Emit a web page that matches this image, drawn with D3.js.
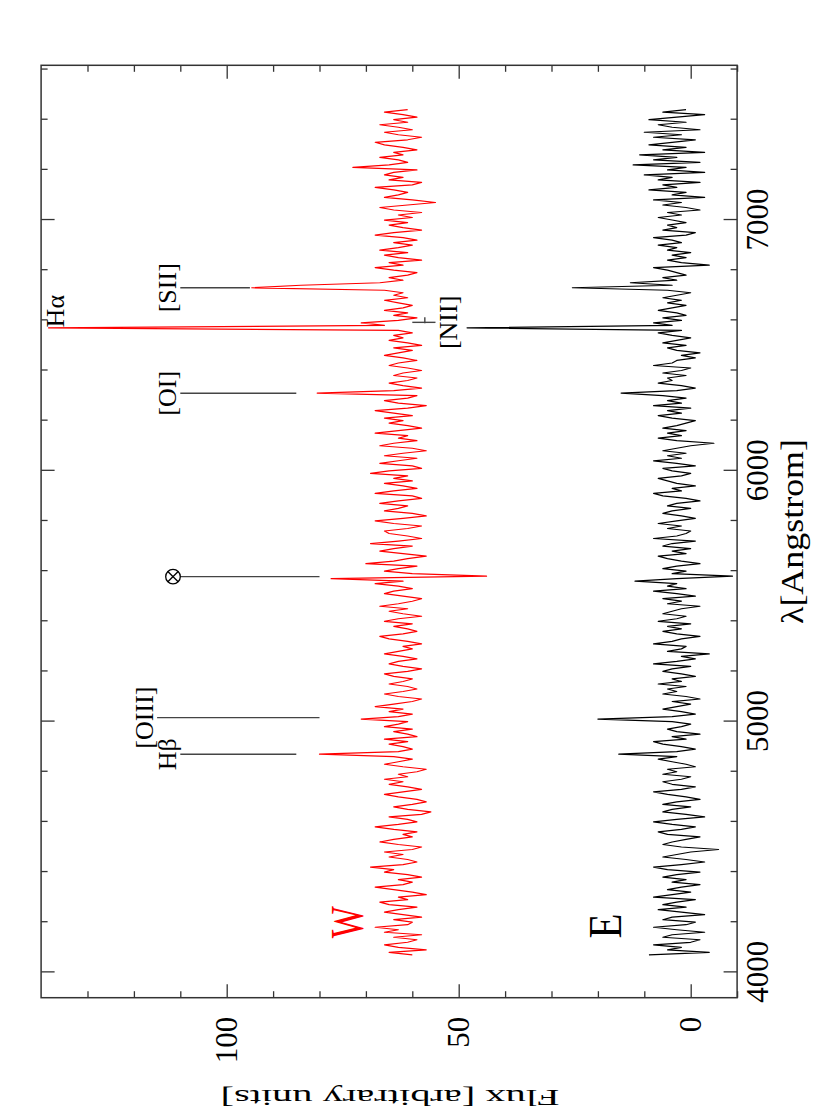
<!DOCTYPE html>
<html lang="en">
<head>
    <meta charset="UTF-8">
    <title>Spectra W and E</title>
    <script src="https://cdnjs.cloudflare.com/ajax/libs/d3/7.8.5/d3.min.js"></script>
    <style>
        body { margin: 0; background: #fff; }
        svg { display: block; }
        text { font-family: "Liberation Serif", "DejaVu Serif", serif; }
    </style>
</head>
<body>
    <svg id="chart" width="830" height="1111"></svg>
    <script>
        // wavelength grid of both spectra (Angstrom)
        const lambdaStart = 4070, lambdaStep = 10;

        // W spectrum (red), flux per 10 A step from 4070 A
        const fluxW = [
            60, 65, 57, 63, 66, 61, 59, 64, 58, 66,
            63, 68, 61, 60, 64, 58, 62, 66, 63, 59,
            65, 67, 61, 63, 57, 60, 64, 68, 62, 60,
            63, 58, 61, 66, 64, 69, 62, 59, 61, 65,
            62, 66, 60, 58, 63, 67, 64, 60, 62, 59,
            64, 68, 63, 59, 61, 65, 58, 56, 61, 64,
            60, 57, 59, 63, 66, 62, 58, 61, 65, 62,
            66, 61, 63, 59, 57, 62, 66, 63, 60, 64,
            80, 63, 60, 62, 65, 61, 66, 59, 61, 64,
            60, 66, 63, 61, 71, 63, 60, 65, 62, 68,
            64, 60, 58, 63, 66, 62, 59, 61, 65, 62,
            60, 64, 66, 61, 58, 62, 65, 63, 59, 62,
            66, 63, 60, 62, 58, 61, 65, 67, 62, 59,
            61, 64, 60, 66, 63, 58, 62, 65, 61, 67,
            63, 60, 58, 62, 66, 64, 60, 63, 68, 62,
            77.5, 44, 60, 66, 63, 59, 70, 64, 61, 57,
            62, 67, 64, 60, 69, 63, 58, 61, 65, 66,
            61, 58, 64, 68, 62, 57, 60, 66, 63, 61,
            67, 63, 58, 60, 68, 64, 59, 62, 66, 60,
            64, 61, 69, 65, 58, 60, 67, 63, 59, 66,
            62, 57, 60, 67, 64, 59, 63, 61, 68, 63,
            58, 61, 65, 62, 66, 60, 64, 68, 61, 57,
            63, 66, 61, 59, 80.5, 64, 58, 62, 65, 61,
            59, 64, 62, 58, 61, 65, 63, 59, 62, 66,
            63, 60, 64, 58, 61, 65, 62, 64, 60, 63,
            138.4, 66, 71, 63, 59, 64, 61, 66, 62, 60,
            63, 66, 61, 64, 62, 66, 94.6, 84, 67, 62,
            65, 61, 59, 64, 68, 62, 65, 58, 63, 66,
            61, 67, 63, 60, 64, 59, 62, 68, 64, 58,
            62, 65, 61, 66, 60, 63, 58, 64, 67, 61,
            55, 60, 66, 63, 61, 64, 68, 60, 58, 65,
            62, 66, 64, 59, 72.8, 65, 61, 63, 67, 62,
            64, 59, 62, 66, 68, 61, 58, 63, 66, 60,
            63, 67, 61, 64, 59, 62, 66, 61
        ];

        // E spectrum (black), same grid
        const fluxE = [
            9, -4, 5, 2, 8, 0, -2, 6, 4, -3,
            3, 8, 1, -1, 6, 4, -3, 2, 7, 1,
            6, 3, -1, 8, 4, 0, 5, 2, -2, 4,
            1, 6, 3, -2, 5, 8, 2, -3, 1, 6,
            3, 0, -6, 2, 6, 4, 1, -2, 5, 7,
            2, -1, 4, 8, 3, -3, 1, 6, 4, 0,
            6, 3, -2, 1, 5, 8, 2, -1, 4, 6,
            2, 0, 6, 3, 5, -1, 1, 4, 7, 3,
            15.5, 3, -1, 2, 6, 8, 1, 4, -2, 3,
            5, 2, 0, 4, 20, 4, -1, 2, 6, 3,
            0, 4, -2, 1, 6, 3, 5, 1, 7, 2,
            4, -1, 2, 6, 4, 0, 8, 3, -1, 2,
            -4, 5, 2, 1, 8, 4, 2, -2, 3, 6,
            2, 5, 0, 7, 3, 1, 6, 4, 2, -2,
            5, 2, 6, -1, 3, 8, 1, 5, 3, 12,
            3, -9, 4, 1, 6, 3, -2, 2, 5, 7,
            1, 4, 0, 6, 4, -1, 8, 3, 1, 0,
            5, 2, 7, 3, -1, 2, 6, 4, 0, 5,
            3, -2, 1, 6, 8, 2, 4, -1, 3, 5,
            7, 2, 0, 4, 6, -1, 3, 8, 2, 5,
            1, 6, 3, 0, -5, 3, 7, 2, 5, 1,
            6, 3, 1, -1, 4, 7, 2, 5, 0, 8,
            2, 5, 1, 6, 15, 3, -1, 2, 7, 4,
            5, 1, 6, 2, 0, 8, 4, 3, -1, 2,
            -2, 3, 5, 1, 6, 3, 0, 4, 7, 2,
            48.2, 4, 8, 2, 6, 1, 3, 7, 4, 1,
            5, 2, 6, 3, 0, 5, 25.5, 4, 13, 3,
            6, 1, 3, 5, 8, -4, 2, 5, 1, 4,
            0, 5, 3, 7, 2, 4, 8, 1, -1, 6,
            3, 5, 1, 4, 7, 2, 5, -2, 1, 6,
            2, 8, -3, 4, 1, 9, 3, 6, -2, 7,
            4, 10, -3, 5, 1, 12.4, -2, 8, 3, 11,
            -3, 6, 1, 9, 4, -1, 8, 2, 10, -2,
            4, 7, 1, 9, 3, -3, 6, 1
        ];

        // line markers: wavelength, flux range of the bar
        const lineNames = ["H\u03b2", "[OIII]", "\u2297", "[OI]", "[SII]"];
        const lineWaves = [4870, 5016, 5578, 6309, 6730];
        const lineTop = [110, 115, 110, 110, 110];
        const lineBottom = [85, 80, 80, 85, 95];

        const niiWave = 6592, niiFlux = [60, 55];
        const haWave = 6572, haFlux = 135;

        // axis ticks
        const wlMajor = [4000, 5000, 6000, 7000];
        const wlMinor = [4200, 4400, 4600, 4800, 5200, 5400, 5600, 5800, 6200, 6400, 6600, 6800, 7200, 7400, 7600];
        const fluxMajor = [0, 50, 100];
        const fluxMinor = [-10, 10, 20, 30, 40, 60, 70, 80, 90, 110, 120, 130];

        // the plot is drawn in landscape and turned a quarter turn
        const svg = d3.select("#chart");
        const g = svg.append("g").attr("transform", "translate(0,1111) rotate(-90)");

        const x = d3.scaleLinear().domain([3899, 7617]).range([113.3, 1045.7]);
        const y = d3.scaleLinear().domain([-10, 140]).range([737.1, 41.1]);
        const [x0, x1] = x.range();
        const [y0, y1] = y.range();

        const ink = "#333";

        function styleAxis(sel, fontSize) {
            sel.select(".domain").remove();
            sel.selectAll(".tick line").attr("stroke", ink).attr("stroke-width", 1.3);
            sel.attr("font-family", "Liberation Serif, serif").attr("font-size", fontSize);
            sel.selectAll("text").attr("fill", "#000");
        }

        // wavelength axis (bottom labelled, top ticks only)
        g.append("g").attr("transform", `translate(0,${y0})`)
            .call(d3.axisBottom(x).tickValues(wlMajor).tickSizeInner(-13.5).tickSizeOuter(0).tickPadding(9).tickFormat(d3.format("d")))
            .call(s => styleAxis(s, 31));
        g.append("g").attr("transform", `translate(0,${y0})`)
            .call(d3.axisBottom(x).tickValues(wlMinor).tickSizeInner(-6.5).tickSizeOuter(0).tickFormat(""))
            .call(s => styleAxis(s, 31));
        g.append("g").attr("transform", `translate(0,${y1})`)
            .call(d3.axisTop(x).tickValues(wlMajor).tickSizeInner(-13.5).tickSizeOuter(0).tickFormat(""))
            .call(s => styleAxis(s, 31));
        g.append("g").attr("transform", `translate(0,${y1})`)
            .call(d3.axisTop(x).tickValues(wlMinor).tickSizeInner(-6.5).tickSizeOuter(0).tickFormat(""))
            .call(s => styleAxis(s, 31));

        // flux axis (left labelled, right ticks only)
        g.append("g").attr("transform", `translate(${x0},0)`)
            .call(d3.axisLeft(y).tickValues(fluxMajor).tickSizeInner(-13.5).tickSizeOuter(0).tickPadding(19).tickFormat(d3.format("d")))
            .call(s => styleAxis(s, 31));
        g.append("g").attr("transform", `translate(${x0},0)`)
            .call(d3.axisLeft(y).tickValues(fluxMinor).tickSizeInner(-6.5).tickSizeOuter(0).tickFormat(""))
            .call(s => styleAxis(s, 31));
        g.append("g").attr("transform", `translate(${x1},0)`)
            .call(d3.axisRight(y).tickValues(fluxMajor).tickSizeInner(-13.5).tickSizeOuter(0).tickFormat(""))
            .call(s => styleAxis(s, 31));
        g.append("g").attr("transform", `translate(${x1},0)`)
            .call(d3.axisRight(y).tickValues(fluxMinor).tickSizeInner(-6.5).tickSizeOuter(0).tickFormat(""))
            .call(s => styleAxis(s, 31));

        // frame
        g.append("rect")
            .attr("x", x0).attr("y", y1)
            .attr("width", x1 - x0).attr("height", y0 - y1)
            .attr("fill", "none").attr("stroke", ink).attr("stroke-width", 1.5);

        // axis titles
        g.append("text")
            .attr("x", (x0 + x1) / 2).attr("y", 803)
            .attr("text-anchor", "middle")
            .attr("font-size", 32)
            .attr("textLength", 185).attr("lengthAdjust", "spacingAndGlyphs")
            .text("\u03bb[Angstrom]");

        g.append("text")
            .attr("transform", "translate(21,390) rotate(-90)")
            .attr("text-anchor", "middle")
            .attr("font-size", 24)
            .attr("textLength", 339).attr("lengthAdjust", "spacingAndGlyphs")
            .text("Flux [arbitrary units]");

        // spectra
        const line = d3.line()
            .x((d, i) => x(lambdaStart + i * lambdaStep))
            .y(d => y(d));

        g.append("path").datum(fluxE)
            .attr("fill", "none").attr("stroke", "#000").attr("stroke-width", 1.2)
            .attr("stroke-linejoin", "round")
            .attr("d", line);

        g.append("path").datum(fluxW)
            .attr("fill", "none").attr("stroke", "#ff0000").attr("stroke-width", 1.2)
            .attr("stroke-linejoin", "round")
            .attr("d", line);

        // line identification bars
        const marks = g.append("g").attr("stroke", "#444").attr("stroke-width", 1.4);
        lineWaves.forEach((w, i) => {
            marks.append("line")
                .attr("x1", x(w)).attr("x2", x(w))
                .attr("y1", y(lineTop[i])).attr("y2", y(lineBottom[i]));
        });
        marks.append("line")
            .attr("x1", x(niiWave)).attr("x2", x(niiWave))
            .attr("y1", y(niiFlux[0])).attr("y2", y(niiFlux[1]));
        marks.append("line")
            .attr("x1", x(niiWave) - 1).attr("x2", x(niiWave) + 5)
            .attr("y1", y(57.3)).attr("y2", y(57.3));

        const labels = g.append("g").attr("font-size", 26).attr("fill", "#000");
        lineNames.forEach((name, i) => {
            if (name === "\u2297") {
                const cx = x(lineWaves[i]), cy = y(lineTop[i]) - 7.3, r = 7.3, d = r * 0.7071;
                const sym = g.append("g").attr("stroke", "#000").attr("stroke-width", 1.3).attr("fill", "none");
                sym.append("circle").attr("cx", cx).attr("cy", cy).attr("r", r);
                sym.append("line").attr("x1", cx - d).attr("y1", cy - d).attr("x2", cx + d).attr("y2", cy + d);
                sym.append("line").attr("x1", cx - d).attr("y1", cy + d).attr("x2", cx + d).attr("y2", cy - d);
                return;
            }
            labels.append("text")
                .attr("x", x(lineWaves[i]))
                .attr("y", y(lineTop[i]) - 4.5)
                .attr("text-anchor", "middle")
                .text(name);
        });
        labels.append("text")
            .attr("x", x(niiWave)).attr("y", y(niiFlux[1]) + 21)
            .attr("text-anchor", "middle")
            .text("[NII]");
        labels.append("text")
            .attr("x", x(haWave)).attr("y", y(haFlux))
            .attr("text-anchor", "start")
            .text("H\u03b1");

        // spectrum names
        g.append("text")
            .attr("x", x(4200)).attr("y", y(70.7))
            .attr("text-anchor", "middle").attr("font-size", 47)
            .attr("textLength", 32).attr("lengthAdjust", "spacingAndGlyphs")
            .attr("fill", "#ff0000").text("W");
        g.append("text")
            .attr("x", x(4185)).attr("y", y(15.0))
            .attr("text-anchor", "middle").attr("font-size", 47)
            .attr("textLength", 25).attr("lengthAdjust", "spacingAndGlyphs")
            .attr("fill", "#000").text("E");
    </script>
</body>
</html>
